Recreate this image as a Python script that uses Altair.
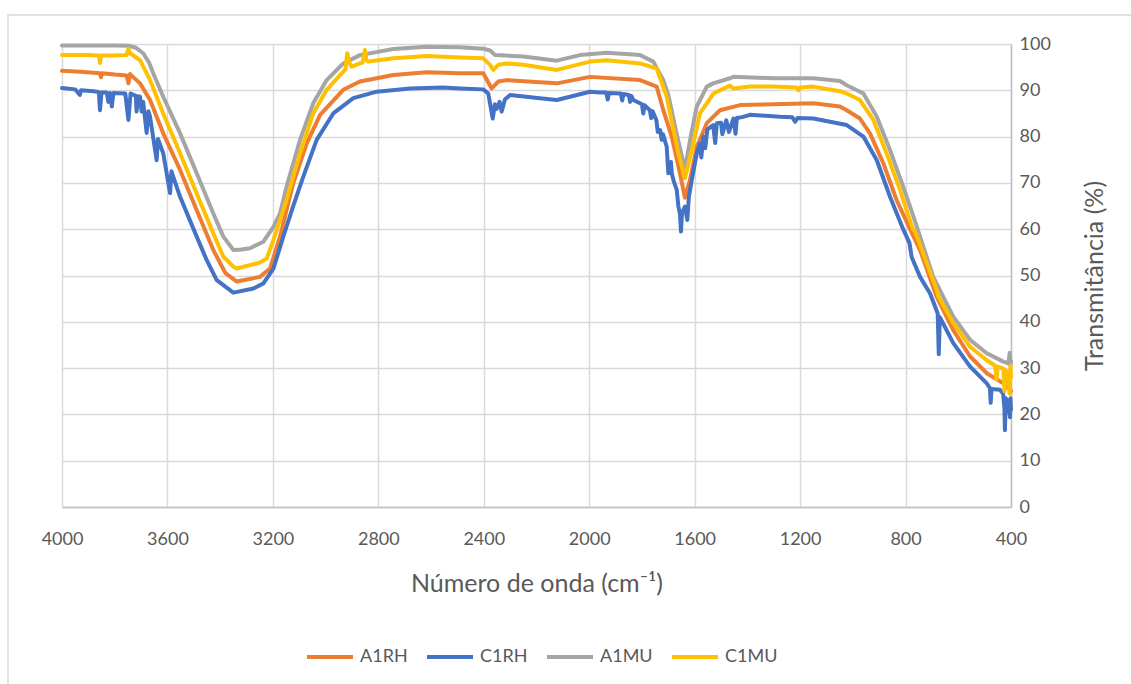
import altair as alt
import pandas as pd

# Series names and Office-style colours, in drawing order
SERIES = ["A1RH", "C1RH", "A1MU", "C1MU"]
COLORS = ["#ED7D31", "#4472C4", "#A5A5A5", "#FFC000"]

X_TICKS = [4000, 3600, 3200, 2800, 2400, 2000, 1600, 1200, 800, 400]
Y_TICKS = [0, 10, 20, 30, 40, 50, 60, 70, 80, 90, 100]

# A1RH spectrum: wavenumber (cm-1) and transmittance (%)
a1rh_wn = [4000, 3930, 3856, 3852, 3848, 3800, 3755, 3748, 3742, 3704, 3666, 3616,
           3552, 3489, 3426, 3380, 3337, 3249, 3211, 3173, 3123, 3072, 3021, 2933,
           2870, 2743, 2617, 2490, 2402, 2370, 2345, 2313, 2123, 1997, 1807, 1744,
           1719, 1687, 1656, 1637, 1618, 1592, 1554, 1504, 1428, 1302, 1150, 1049,
           1023, 973, 935, 884, 834, 783, 745, 682, 619, 555, 492, 429, 405, 400]
a1rh_t = [94.2, 94.0, 93.7, 92.8, 93.7, 93.4, 93.2, 91.5, 93.5, 91.5, 87.9, 80.7,
          72.8, 64.1, 55.5, 50.5, 48.7, 49.7, 51.5, 58.4, 69.9, 78.5, 84.7, 90.1,
          91.9, 93.3, 93.9, 93.7, 93.7, 90.4, 91.9, 92.2, 91.5, 92.9, 92.2, 90.8,
          85.7, 80.0, 72.1, 66.8, 70.6, 77.8, 82.9, 85.7, 86.8, 87.0, 87.2, 86.5,
          85.7, 83.9, 80.7, 74.2, 66.3, 60.0, 55.5, 45.4, 38.2, 32.5, 28.9, 26.7, 25.5, 25.0]

# C1RH spectrum
c1rh_wn = [4000, 3950, 3932, 3928, 3880, 3860, 3856, 3850, 3830, 3824, 3818, 3811,
           3805, 3760, 3748, 3740, 3720, 3717, 3712, 3704, 3698, 3692, 3679, 3672,
           3666, 3641, 3636, 3616, 3590, 3585, 3552, 3489, 3451, 3413, 3350, 3274,
           3236, 3198, 3160, 3123, 3085, 3034, 2971, 2895, 2806, 2680, 2553, 2490,
           2402, 2383, 2366, 2358, 2351, 2340, 2332, 2320, 2300, 2187, 2123, 1997,
           1959, 1935, 1930, 1925, 1880, 1875, 1870, 1850, 1845, 1840, 1833, 1800,
           1795, 1790, 1770, 1765, 1760, 1745, 1740, 1731, 1725, 1720, 1706, 1700,
           1690, 1687, 1680, 1668, 1662, 1656, 1652, 1648, 1637, 1628, 1622, 1611,
           1600, 1592, 1580, 1575, 1567, 1560, 1552, 1530, 1522, 1516, 1500, 1495,
           1480, 1470, 1453, 1445, 1440, 1420, 1390, 1276, 1230, 1219, 1210, 1150,
           1023, 960, 909, 859, 809, 785, 777, 745, 707, 678, 674, 670, 619, 555,
           492, 480, 477, 474, 442, 430, 425, 423, 420, 410, 404, 402, 400]
c1rh_t = [90.5, 90.2, 89.0, 90.0, 89.8, 89.6, 85.7, 89.5, 89.5, 87.5, 89.4, 86.5,
          89.4, 89.3, 83.6, 89.3, 88.8, 85.4, 88.7, 88.6, 85.4, 87.5, 80.8, 85.5,
          84.3, 74.9, 79.5, 76.4, 67.8, 72.5, 67.0, 58.4, 53.3, 49.0, 46.3, 47.2,
          48.3, 51.5, 58.5, 65.0, 71.3, 79.3, 85.0, 88.3, 89.7, 90.4, 90.6, 90.4,
          90.2, 89.3, 83.9, 87.0, 86.0, 87.5, 85.4, 88.0, 89.0, 88.3, 87.9, 89.7,
          89.5, 89.5, 88.0, 89.4, 89.3, 87.8, 89.2, 89.0, 87.5, 88.8, 87.9, 87.0,
          85.0, 86.8, 85.7, 84.0, 85.5, 83.5, 81.0, 81.4, 79.3, 80.5, 77.8, 72.1,
          74.5, 72.1, 70.5, 68.5, 65.0, 63.4, 59.5, 63.5, 64.9, 62.0, 67.0, 70.6,
          74.0, 76.4, 78.5, 75.5, 80.0, 77.5, 81.5, 82.5, 78.6, 82.9, 83.0, 80.5,
          83.5, 81.0, 83.9, 80.6, 84.0, 84.2, 84.7, 84.3, 84.2, 83.2, 84.0, 83.9,
          82.5, 80.0, 74.9, 67.0, 60.0, 57.0, 54.0, 49.7, 46.1, 41.8, 33.0, 41.0, 35.4, 30.3,
          26.7, 25.7, 22.5, 25.5, 25.3, 24.5, 21.5, 16.6, 23.5, 22.5, 19.4, 23.5, 21.0]

# A1MU spectrum
a1mu_wn = [4000, 3900, 3800, 3745, 3720, 3692, 3670, 3654, 3616, 3552, 3489, 3426,
           3388, 3350, 3320, 3287, 3236, 3198, 3173, 3148, 3097, 3047, 2996, 2933,
           2870, 2743, 2617, 2490, 2402, 2376, 2357, 2250, 2123, 2035, 1934, 1807,
           1757, 1719, 1700, 1670, 1637, 1615, 1592, 1554, 1530, 1466, 1453, 1302,
           1150, 1049, 1023, 960, 909, 859, 809, 770, 695, 619, 555, 492, 429, 410,
           405, 402, 400]
a1mu_t = [99.7, 99.7, 99.7, 99.6, 99.2, 98.0, 96.0, 93.7, 88.6, 80.7, 72.1, 63.4,
          58.4, 55.5, 55.6, 55.9, 57.3, 60.5, 63.4, 69.2, 79.3, 87.2, 92.2, 95.8,
          97.6, 98.9, 99.4, 99.3, 99.0, 98.6, 97.6, 97.3, 96.4, 97.6, 98.1, 97.6,
          96.2, 92.2, 89.0, 81.0, 73.0, 80.0, 86.5, 90.8, 91.5, 92.6, 92.9, 92.6,
          92.6, 92.0, 91.1, 89.3, 84.3, 77.1, 69.2, 62.7, 49.7, 41.1, 36.1, 33.2, 31.4, 31.0,
          33.3, 30.5, 31.5]

# C1MU spectrum
c1mu_wn = [4000, 3900, 3860, 3856, 3852, 3800, 3755, 3748, 3742, 3704, 3666, 3616,
           3552, 3489, 3426, 3388, 3350, 3337, 3249, 3223, 3198, 3148, 3097, 3047,
           2996, 2945, 2925, 2918, 2910, 2901, 2870, 2860, 2851, 2845, 2838, 2743,
           2617, 2490, 2402, 2376, 2364, 2345, 2313, 2250, 2123, 1997, 1934, 1807,
           1744, 1706, 1662, 1637, 1611, 1580, 1529, 1466, 1453, 1390, 1302, 1213,
           1206, 1200, 1150, 1049, 1023, 973, 922, 872, 821, 796, 771, 764, 682,
           676, 619, 555, 492, 460, 455, 450, 429, 425, 420, 410, 405, 402, 400]
c1mu_t = [97.6, 97.6, 97.5, 95.9, 97.5, 97.5, 97.6, 99.0, 98.0, 96.5, 92.2, 85.0,
          76.4, 67.7, 59.1, 54.1, 51.9, 51.5, 52.8, 53.7, 57.7, 66.3, 76.4, 85.0,
          90.1, 93.3, 94.5, 98.0, 96.0, 95.1, 95.8, 96.0, 98.7, 96.5, 96.2, 96.9,
          97.4, 97.1, 96.9, 95.5, 94.4, 95.5, 95.8, 95.5, 94.4, 96.2, 96.5, 95.8,
          94.7, 88.6, 76.4, 71.0, 77.1, 85.0, 89.3, 91.0, 90.4, 90.8, 90.8, 90.6,
          90.0, 90.6, 90.8, 89.8, 89.3, 87.9, 83.6, 76.4, 68.5, 64.1, 59.8, 59.5, 46.9,
          45.5, 39.7, 34.6, 31.7, 30.5, 27.5, 30.3, 29.9, 25.0, 29.5, 29.0, 24.5, 30.5, 28.0]

rows = []
for name, wn, t in [("A1RH", a1rh_wn, a1rh_t), ("C1RH", c1rh_wn, c1rh_t),
                    ("A1MU", a1mu_wn, a1mu_t), ("C1MU", c1mu_wn, c1mu_t)]:
    for i, (w, v) in enumerate(zip(wn, t)):
        rows.append({"serie": name, "wn": w, "t": v, "ordem": i})
df = pd.DataFrame(rows)

FONT = "Lato"
TEXT = "#595959"
GRID = "#d9d9d9"

x_enc = alt.X(
    "wn:Q",
    scale=alt.Scale(domain=[400, 4000], reverse=True, nice=False, zero=False),
    axis=alt.Axis(values=X_TICKS, format="d", grid=True, gridColor=GRID, gridWidth=1.5,
                  domainColor="#bfbfbf", domainWidth=1.5, ticks=False,
                  labelFont=FONT, labelFontSize=18, labelColor=TEXT, labelPadding=23,
                  labelFlush=False, labelOverlap=False,
                  title="Número de onda (cm⁻¹)", titleFont=FONT, titleFontSize=25,
                  titleFontWeight="normal", titleColor=TEXT, titlePadding=23),
)
y_enc = alt.Y(
    "t:Q",
    scale=alt.Scale(domain=[0, 100], nice=False),
    axis=alt.Axis(orient="right", values=Y_TICKS, grid=True, gridColor=GRID, gridWidth=1.5,
                  domainColor="#bfbfbf", domainWidth=1.5, ticks=False,
                  labelFont=FONT, labelFontSize=18, labelColor=TEXT, labelPadding=8,
                  title="Transmitância (%)", titleFont=FONT, titleFontSize=25,
                  titleFontWeight="normal", titleColor=TEXT, titleAngle=270,
                  titlePadding=57),
)
color_enc = alt.Color(
    "serie:N",
    scale=alt.Scale(domain=SERIES, range=COLORS),
    legend=alt.Legend(orient="none", legendX=243, legendY=588, direction="horizontal",
                      title=None, symbolType="stroke", symbolSize=2116,
                      symbolStrokeWidth=4, labelFont=FONT, labelFontSize=18,
                      labelColor=TEXT, labelOffset=5, columnPadding=11, padding=0),
)

base = alt.Chart(df).mark_line(strokeWidth=4, strokeJoin="round", strokeCap="round").encode(
    x=x_enc, y=y_enc, color=color_enc, order="ordem:Q"
)

# Thin outer frame of the chart area
frame = alt.Chart(pd.DataFrame({"k": [0]})).mark_rect(
    fillOpacity=0, stroke="#d9d9d9", strokeWidth=1.5
).encode(x=alt.value(-54), x2=alt.value(1100), y=alt.value(-29), y2=alt.value(700))

layers = [frame] + [base.transform_filter(alt.datum.serie == s) for s in SERIES]

chart = alt.layer(*layers).properties(
    width=949, height=463,
    padding={"left": 62, "top": 44, "right": 120, "bottom": 177},
    autosize=alt.AutoSizeParams(type="none"),
).configure_view(stroke=None).configure(background="white")

chart.save("out.html", embed_options={"renderer": "svg", "actions": False})
